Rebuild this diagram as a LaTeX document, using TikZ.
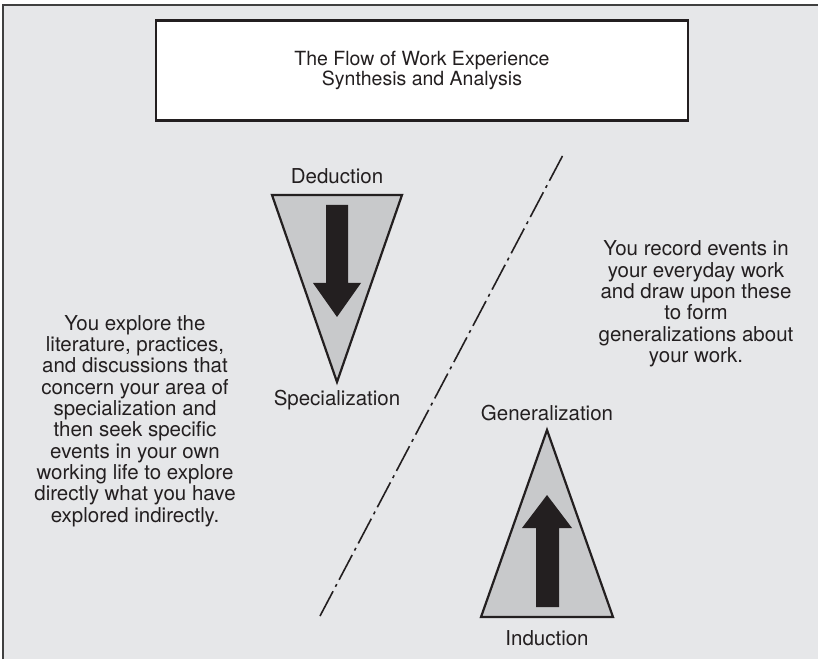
\documentclass[tikz,border=0pt]{standalone}
\usepackage{fontspec}
\setmainfont{TeX Gyre Heros}
\usetikzlibrary{positioning,calc}
\definecolor{panel}{HTML}{E6E7E9}
\definecolor{wedge}{HTML}{C8C9CB}
\definecolor{ink}{HTML}{231F20}

\begin{document}
\begin{tikzpicture}[x=1pt,y=1pt,font=\fontsize{20.5}{21.3}\selectfont,
  lbl/.style={text=ink,align=center,inner sep=0pt},
  wedgeshape/.style={fill=wedge,draw=ink,line width=2.2pt,line join=miter}]
\useasboundingbox (0,0) rectangle (818,659);
\fill[white] (0,0) rectangle (818,659);
\fill[panel] (3,0) rectangle (818,654);
\draw[line width=2pt,draw=black!75] (3,0) -- (3,654) -- (818,654);
% title
\node[draw=ink,line width=2.6pt,fill=white,minimum width=532,minimum height=100,
  align=center,text=ink,font=\fontsize{19.5}{20}\selectfont] (title) at (422,588.5)
  {The Flow of Work Experience\\Synthesis and Analysis};
% divider
\coordinate (cuttop) at (563,504);
\coordinate (cutbot) at (320,43);
\draw[ink,line width=1.6pt,dash pattern=on 28pt off 5pt on 3pt off 5pt] (cutbot) -- (cuttop);
% deduction wedge
\draw[wedgeshape] (272,464) -- (402,464) -- (337,277) -- cycle;
\fill[ink] (326,454) -- (348,454) -- (348,376) -- (361,376) -- (337,342) -- (313,376) -- (326,376) -- cycle;
\node[lbl,anchor=base] (deduct) at (337,475) {Deduction};
\node[lbl,anchor=base] (special) at (337,254) {Specialization};
% induction wedge
\draw[wedgeshape] (481,42) -- (613,42) -- (547,229) -- cycle;
\fill[ink] (536,52) -- (559,52) -- (559,131) -- (572,131) -- (547,164) -- (522,131) -- (536,131) -- cycle;
\node[lbl,anchor=base] (general) at (547,239) {Generalization};
\node[lbl,anchor=base] (induct) at (547,14) {Induction};
% side texts
\node[lbl] (lefttext) at (135,238) {You explore the\\literature, practices,\\and discussions that\\concern your area of\\specialization and\\then seek specific\\events in your own\\working life to explore\\directly what you have\\explored indirectly.};
\node[lbl] (righttext) at (696,355) {You record events in\\your everyday work\\and draw upon these\\to form\\generalizations about\\your work.};
\end{tikzpicture}
\end{document}
